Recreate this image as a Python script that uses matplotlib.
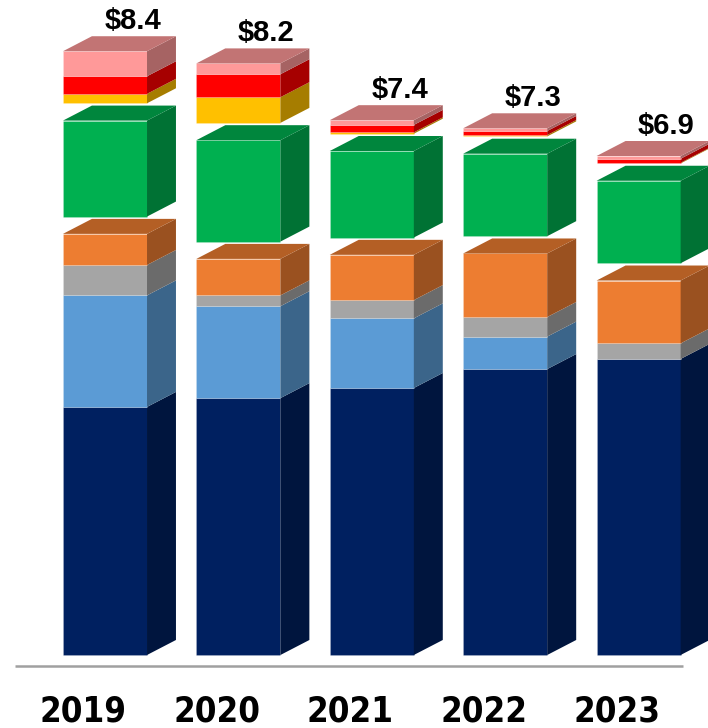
import matplotlib.pyplot as plt
from matplotlib.patches import Polygon
import numpy as np

years = ['2019', '2020', '2021', '2022', '2023']
total_labels = ['$8.4', '$8.2', '$7.4', '$7.3', '$6.9']

# stacked segments, bottom to top ($B)
navy = [3.67, 3.80, 3.95, 4.23, 4.38]
light_blue = [1.65, 1.36, 1.03, 0.48, 0.00]
gray = [0.45, 0.16, 0.27, 0.29, 0.23]
orange = [0.46, 0.54, 0.67, 0.94, 0.93]
green = [1.42, 1.50, 1.28, 1.22, 1.22]
yellow = [0.14, 0.38, 0.02, 0.02, 0.01]
red = [0.26, 0.34, 0.11, 0.06, 0.06]
pink = [0.37, 0.16, 0.07, 0.04, 0.04]

# three blocks per bar, separated by a small gap
groups = [
    [(navy, '#002060'), (light_blue, '#5B9BD5'), (gray, '#A5A5A5'), (orange, '#ED7D31')],
    [(green, '#00B050')],
    [(yellow, '#FFC000'), (red, '#FF0000'), (pink, '#FF9999')],
]

GAP = 0.256
WIDTH = 0.63
DX, DY = 0.217, 0.222   # depth of the fake 3d boxes


def shade(color, f):
    r, g, b = [int(color[k:k + 2], 16) / 255 for k in (1, 3, 5)]
    return (r * f, g * f, b * f)


fig = plt.figure(figsize=(7.08, 7.28), dpi=100)
ax = fig.add_axes([0, 0, 1, 1])
ax.set_xlim(-0.787, 4.52)
ax.set_ylim(-1.08, 9.69)
ax.axis('off')

x = np.arange(len(years))
bottoms = np.zeros(len(years))

for gi, group in enumerate(groups):
    if gi > 0:
        bottoms = bottoms + GAP
    for si, (vals, col) in enumerate(group):
        vals = np.array(vals)
        ax.bar(x, vals, width=WIDTH, bottom=bottoms, color=col,
               edgecolor=(1, 1, 1, 0.3), linewidth=0.4, zorder=2)
        for i in range(len(x)):
            if vals[i] <= 0:
                continue
            x1 = x[i] + WIDTH / 2
            b, t = bottoms[i], bottoms[i] + vals[i]
            side = Polygon([(x1, b), (x1 + DX, b + DY), (x1 + DX, t + DY), (x1, t)],
                           closed=True, facecolor=shade(col, 0.65),
                           edgecolor='none', zorder=2)
            ax.add_patch(side)
            if si == len(group) - 1:
                x0 = x[i] - WIDTH / 2
                top = Polygon([(x0, t), (x0 + DX, t + DY), (x1 + DX, t + DY), (x1, t)],
                              closed=True, facecolor=shade(col, 0.76),
                              edgecolor='none', zorder=2)
                ax.add_patch(top)
        bottoms = bottoms + vals

# total labels above each box
for i in range(len(x)):
    ax.text(x[i] + 0.208, bottoms[i] + DY + 0.11, total_labels[i],
            ha='center', va='baseline', fontsize=21, fontweight='bold',
            family=['Liberation Sans', 'DejaVu Sans'], color='black', zorder=3)

# baseline
ax.plot([-0.675, 4.333], [-0.158, -0.158], color='#A0A0A0', linewidth=1.8,
        solid_capstyle='butt', zorder=1)

# year labels
for i in range(len(x)):
    ax.text(x[i] - 0.162, -0.985, years[i], ha='center', va='baseline',
            fontsize=25, fontweight='bold', fontstretch='condensed',
            family=['Liberation Sans Narrow', 'DejaVu Sans', 'Liberation Sans'],
            color='black')

fig.savefig('out.png', dpi=100, facecolor='white')
